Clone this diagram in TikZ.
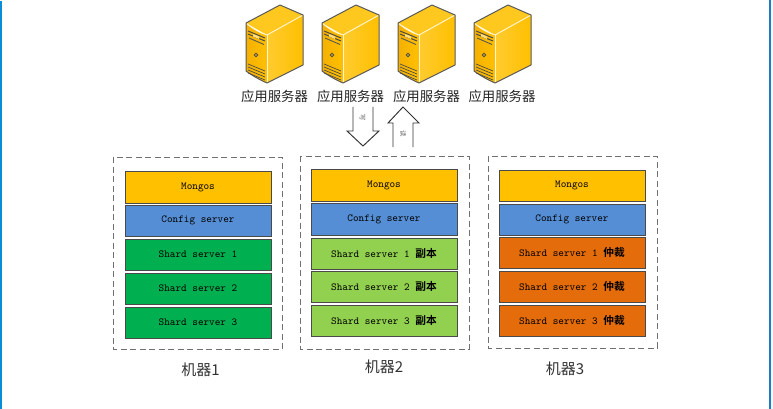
\documentclass[tikz,border=0pt]{standalone}
\usepackage{fontspec}
\setmainfont{Liberation Sans}
\newfontfamily\cjk{Noto Sans CJK SC}
\newfontfamily\cjkb{Noto Sans CJK SC Bold}
\definecolor{mongos}{HTML}{FFC000}
\definecolor{config}{HTML}{558ED5}
\definecolor{shardg}{HTML}{00B050}
\definecolor{shardl}{HTML}{92D050}
\definecolor{shardo}{HTML}{E46C0A}
\definecolor{edgec}{HTML}{4A4A4A}
\definecolor{dashc}{HTML}{707070}
\definecolor{srvA}{HTML}{FFC000}
\definecolor{srvB}{HTML}{FFC81E}
\definecolor{srvC}{HTML}{F5B000}
\definecolor{srvD}{HTML}{FFCB30}
\tikzset{
  x=1pt,y=-1pt,
  every node/.style={inner sep=0pt,outer sep=0pt},
  box/.style={draw=edgec,line width=1pt,minimum width=146pt,anchor=north west,text=black,font=\ttfamily\fontsize{10.7}{11}\selectfont,align=center},
  machine/.style={draw=dashc,line width=0.95pt,dash pattern=on 6pt off 3.5pt},
  srvlabel/.style={font=\cjk\fontsize{13.4}{14}\selectfont,text=black!85},
  mlabel/.style={font=\cjk\fontsize{15}{16}\selectfont,text=black!80},
  flow/.style={draw=black!80,line width=0.95pt,line join=miter},
  flowlabel/.style={font=\cjk\fontsize{6.5}{7}\selectfont,text=black!60},
  pics/server/.style={code={
    \fill[srvB] (0,18) -- (34,0) -- (57,10) -- (21,30) -- cycle;
    \shade[left color=srvC,right color=srvA] (0,18) .. controls (7,24) and (14,28) .. (21,30) -- (21,78) .. controls (14,75) and (7,71) .. (0,66) -- cycle;
    \shade[left color=srvD,right color=srvA] (21,30) -- (57,10) -- (57,60) -- (21,78) -- cycle;
    \draw[white!85!srvA,line width=0.9pt] (0.8,18.6) .. controls (7,24) and (14,28) .. (21,30) -- (56.4,10.4);
    \draw[white!85!srvA,line width=0.9pt] (21,30) -- (21,77);
    \draw[black!65,line width=1pt,line join=round] (0,18) -- (34,0) -- (57,10) -- (57,60) -- (21,78) .. controls (14,75) and (7,71) .. (0,66) -- cycle;
    \draw[black!70,line width=1pt] (2,26) -- (19,33);
    \draw[black!70,line width=1pt] (2,29) -- (19,36);
    \draw[black!65,line width=0.9pt] (3,33) -- (18,39.5);
    \fill[white!50!srvA] (7,29) -- (13,31.5) -- (13,34) -- (7,31.5) -- cycle;
    \draw[black!70,line width=0.9pt,fill=srvA] (10,50) circle (1.8pt);
    \draw[black!70,line width=0.7pt] (2,59) -- (19,66) (2,62) -- (19,69) (2,65) -- (19,72) (2,68) -- (19,75);
  }}
}
\newcommand{\shardtext}[2]{Shard server #1{\ }{\cjkb #2}}
\begin{document}
\begin{tikzpicture}
\useasboundingbox (0,0) rectangle (773,409);
\fill[white] (0,0) rectangle (773,409);
\fill[blue!4] (770.5,0) rectangle (773,409);
\draw[color={rgb,255:red,10;green,140;blue,215},line width=1.6pt] (0.8,1) -- (0.8,409);
\draw[color={rgb,255:red,25;green,125;blue,190},line width=1.6pt] (769.7,0) -- (769.7,409);

% servers
\foreach \n/\px/\lx in {1/246/274.5,2/322/350.5,3/398/426.5,4/474/502}{
  \pic (srv\n) at (\px,5) {server};
  \node[srvlabel] (lab\n) at (\lx,96) {应用服务器};
}

% block arrows
\draw[flow] (353,107) -- (353,131) -- (347,131) -- (363,146) -- (379,131) -- (373,131) -- (373,107);
\node[flowlabel,rotate=-90] (wr) at (362.5,118) {写};
\draw[flow] (393,147) -- (393,123) -- (388,123) -- (403,107) -- (419,123) -- (413,123) -- (413,147);
\node[flowlabel,rotate=-90] (rd) at (403,134) {读};

% machine 1
\draw[machine] (113,157) rectangle (282,349);
\node[box,fill=mongos,minimum height=32pt] (m1) at (125,171) {Mongos};
\node[box,fill=config,minimum height=31pt] (c1) at (125,205) {Config server};
\node[box,fill=shardg,minimum height=31pt] (a1) at (125,239) {Shard server 1};
\node[box,fill=shardg,minimum height=31pt] (a2) at (125,273) {Shard server 2};
\node[box,fill=shardg,minimum height=31pt] (a3) at (125,307) {Shard server 3};
\node[mlabel] (t1) at (200.5,370) {机器1};

% machine 2
\draw[machine] (300,156) rectangle (469,349);
\node[box,fill=mongos,minimum height=32pt] (m2) at (311,169) {Mongos};
\node[box,fill=config,minimum height=32pt] (c2) at (311,203) {Config server};
\node[box,fill=shardl,minimum height=31pt] (b1) at (311,238) {\shardtext{1}{副本}};
\node[box,fill=shardl,minimum height=31pt] (b2) at (311,271) {\shardtext{2}{副本}};
\node[box,fill=shardl,minimum height=31pt] (b3) at (311,305) {\shardtext{3}{副本}};
\node[mlabel] (t2) at (384,367) {机器2};

% machine 3
\draw[machine] (488,156) rectangle (657,348);
\node[box,fill=mongos,minimum height=31pt] (m3) at (499,170) {Mongos};
\node[box,fill=config,minimum height=31pt] (c3) at (499,204) {Config server};
\node[box,fill=shardo,minimum height=31pt] (d1) at (499,237) {\shardtext{1}{仲裁}};
\node[box,fill=shardo,minimum height=31pt] (d2) at (499,271) {\shardtext{2}{仲裁}};
\node[box,fill=shardo,minimum height=31pt] (d3) at (499,305) {\shardtext{3}{仲裁}};
\node[mlabel] (t3) at (565,369) {机器3};
\end{tikzpicture}
\end{document}
